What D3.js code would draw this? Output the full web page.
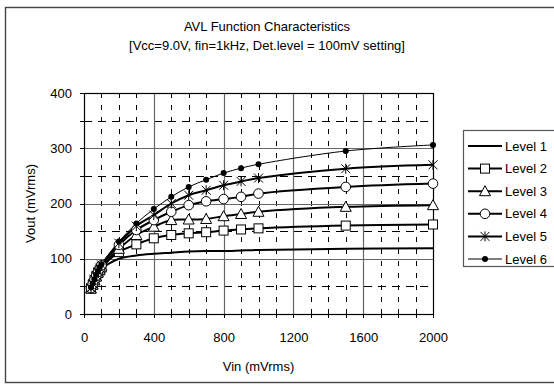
<!DOCTYPE html>
<html>
<head>
<meta charset="utf-8">
<script src="https://cdn.jsdelivr.net/npm/d3@7"></script>
<style>
  body { margin: 0; background: #fff; }
  svg { font-family: Arial, "Liberation Sans", sans-serif; }
</style>
</head>
<body>
<svg id="chart" width="554" height="385"></svg>
<script>
var vin = [40, 50, 60, 70, 80, 90, 100, 200, 300, 400, 500, 600, 700, 800, 900, 1000, 1500, 2000];
var level1 = [45, 52, 60, 66, 72, 77, 82, 100, 106, 109, 111, 113, 114, 114, 115, 116, 118, 119];
var level2 = [46, 53, 61, 68, 74, 79, 84, 112, 126, 137, 143, 146, 148, 151, 153, 155, 160, 162];
var level3 = [46, 53, 61, 68, 75, 80, 86, 118, 143, 158, 170, 171, 172, 177, 181, 185, 194, 197];
var level4 = [47, 54, 62, 69, 76, 82, 88, 125, 152, 170, 185, 197, 204, 208, 212, 218, 230, 236];
var level5 = [47, 55, 63, 70, 77, 83, 89, 128, 159, 179, 200, 215, 224, 233, 240, 246, 263, 270];
var level6 = [48, 55, 63, 71, 78, 84, 90, 131, 164, 190, 212, 230, 243, 255, 264, 271, 295, 306];
var seriesNames = ["Level 1", "Level 2", "Level 3", "Level 4", "Level 5", "Level 6"];
var xTicks = [0, 400, 800, 1200, 1600, 2000];
var yTicks = [0, 100, 200, 300, 400];

var series = [level1, level2, level3, level4, level5, level6].map(function (vals, i) {
  return { name: seriesNames[i], values: vals.map(function (v, j) { return { x: vin[j], y: v }; }) };
});
var markers = ["none", "square", "triangle", "circle", "star", "dot"];

var svg = d3.select("#chart"),
  margin = { top: 93, left: 84 },
  width = 349,
  height = 221;

// outer chart border
svg.append("rect")
  .attr("x", 5.5).attr("y", 7.5)
  .attr("width", 560).attr("height", 375)
  .attr("fill", "#fff")
  .attr("stroke", "#444").attr("stroke-width", 1.4);

svg.append("text").attr("x", 267).attr("y", 31)
  .attr("text-anchor", "middle").attr("font-size", 13)
  .text("AVL Function Characteristics");
svg.append("text").attr("x", 267).attr("y", 50)
  .attr("text-anchor", "middle").attr("font-size", 13)
  .text("[Vcc=9.0V, fin=1kHz, Det.level = 100mV setting]");

var x = d3.scaleLinear().domain([0, 2000]).range([0, width]),
  y = d3.scaleLinear().domain([0, 400]).range([height, 0]);

var g = svg.append("g")
  .attr("transform", "translate(" + margin.left + "," + margin.top + ")");

// minor dashed grid
g.selectAll(".vminor")
  .data(d3.range(100, 2000, 100).filter(function (d) { return d % 400 !== 0; }))
  .enter().append("line")
  .attr("x1", function (d) { return Math.round(x(d)) + 0.5; })
  .attr("x2", function (d) { return Math.round(x(d)) + 0.5; })
  .attr("y1", 0).attr("y2", height)
  .attr("stroke", "#000").attr("stroke-width", 1)
  .attr("stroke-dasharray", "5,7");

g.selectAll(".hminor")
  .data([50, 150, 250, 350])
  .enter().append("line")
  .attr("x1", 0).attr("x2", width)
  .attr("y1", function (d) { return Math.round(y(d)) + 0.5; })
  .attr("y2", function (d) { return Math.round(y(d)) + 0.5; })
  .attr("stroke", "#000").attr("stroke-width", 1)
  .attr("stroke-dasharray", "8,6");

// major solid grid
g.selectAll(".vmajor")
  .data([400, 800, 1200, 1600])
  .enter().append("line")
  .attr("x1", function (d) { return Math.round(x(d)) + 0.5; })
  .attr("x2", function (d) { return Math.round(x(d)) + 0.5; })
  .attr("y1", 0).attr("y2", height)
  .attr("stroke", "#666").attr("stroke-width", 1.2);

g.selectAll(".hmajor")
  .data([100, 200, 300])
  .enter().append("line")
  .attr("x1", 0).attr("x2", width)
  .attr("y1", function (d) { return Math.round(y(d)) + 0.5; })
  .attr("y2", function (d) { return Math.round(y(d)) + 0.5; })
  .attr("stroke", "#666").attr("stroke-width", 1);

// frame
g.append("rect")
  .attr("x", 0.5).attr("y", 0.5)
  .attr("width", width).attr("height", height)
  .attr("fill", "none").attr("stroke", "#000").attr("stroke-width", 1.2);

// axes
g.append("g")
  .attr("class", "axis axis--x")
  .attr("transform", "translate(0," + height + ")")
  .call(d3.axisBottom(x).tickValues(xTicks).tickFormat(d3.format("d")).tickSize(0).tickPadding(19))
  .call(function (s) { s.select(".domain").remove(); })
  .selectAll("text").attr("font-size", 13).attr("font-family", "Arial, 'Liberation Sans', sans-serif").attr("fill", "#000");

g.append("g")
  .attr("class", "axis axis--y")
  .call(d3.axisLeft(y).tickValues(yTicks).tickFormat(d3.format("d")).tickSize(0).tickPadding(12))
  .call(function (s) { s.select(".domain").remove(); })
  .selectAll("text").attr("font-size", 13).attr("font-family", "Arial, 'Liberation Sans', sans-serif").attr("fill", "#000");

// small outside ticks
g.selectAll(".ytick")
  .data(d3.range(0, 401, 50))
  .enter().append("line")
  .attr("x1", -4).attr("x2", 0)
  .attr("y1", function (d) { return Math.round(y(d)) + 0.5; })
  .attr("y2", function (d) { return Math.round(y(d)) + 0.5; })
  .attr("stroke", "#000");

g.selectAll(".xtick")
  .data(d3.range(0, 2001, 100))
  .enter().append("line")
  .attr("y1", height).attr("y2", height + 4)
  .attr("x1", function (d) { return Math.round(x(d)) + 0.5; })
  .attr("x2", function (d) { return Math.round(x(d)) + 0.5; })
  .attr("stroke", "#000");

svg.append("text")
  .attr("transform", "translate(35," + (margin.top + height / 2) + ") rotate(-90)")
  .attr("text-anchor", "middle").attr("font-size", 13)
  .text("Vout (mVrms)");
svg.append("text")
  .attr("x", margin.left + width / 2).attr("y", 371)
  .attr("text-anchor", "middle").attr("font-size", 13)
  .text("Vin (mVrms)");

var line = d3.line()
  .x(function (d) { return x(d.x); })
  .y(function (d) { return y(d.y); })
  .curve(d3.curveCatmullRom.alpha(0.5));

function drawMarker(sel, type) {
  if (type === "square") {
    sel.append("rect").attr("x", -4.5).attr("y", -4.5).attr("width", 9).attr("height", 9)
      .attr("fill", "#fff").attr("stroke", "#000").attr("stroke-width", 1);
  } else if (type === "triangle") {
    sel.append("path").attr("d", "M0,-5.5L5.5,4.5L-5.5,4.5Z")
      .attr("fill", "#fff").attr("stroke", "#000").attr("stroke-width", 1);
  } else if (type === "circle") {
    sel.append("circle").attr("r", 4.8)
      .attr("fill", "#fff").attr("stroke", "#000").attr("stroke-width", 1);
  } else if (type === "star") {
    sel.append("path").attr("d", "M-4.5,-4.5L4.5,4.5M-4.5,4.5L4.5,-4.5M0,-5L0,5")
      .attr("fill", "none").attr("stroke", "#000").attr("stroke-width", 1);
  } else if (type === "dot") {
    sel.append("circle").attr("r", 3).attr("fill", "#000");
  }
}

var lines = g.append("g").attr("class", "lines");
series.forEach(function (s, i) {
  lines.append("path")
    .datum(s.values)
    .attr("fill", "none")
    .attr("stroke", "#000")
    .attr("stroke-width", i === 5 ? 1 : 2)
    .attr("d", line);
});

series.forEach(function (s, i) {
  if (markers[i] === "none") return;
  g.append("g").selectAll("g")
    .data(s.values)
    .enter().append("g")
    .attr("transform", function (d) { return "translate(" + x(d.x) + "," + y(d.y) + ")"; })
    .each(function () { drawMarker(d3.select(this), markers[i]); });
});

// legend
var legend = svg.append("g");
legend.append("rect")
  .attr("x", 463.5).attr("y", 130.5)
  .attr("width", 100).attr("height", 136)
  .attr("fill", "#fff").attr("stroke", "#555").attr("stroke-width", 1.2);

var ly = d3.scalePoint().domain(seriesNames).range([146, 259]);
series.forEach(function (s, i) {
  var row = legend.append("g").attr("transform", "translate(0," + ly(s.name) + ")");
  row.append("line").attr("x1", 468).attr("x2", 502).attr("y1", 0).attr("y2", 0)
    .attr("stroke", "#000").attr("stroke-width", i === 5 ? 1 : 2);
  var m = row.append("g").attr("transform", "translate(485,0)");
  drawMarker(m, markers[i]);
  row.append("text").attr("x", 505).attr("y", 4.5).attr("font-size", 13).text(s.name);
});
</script>
</body>
</html>
